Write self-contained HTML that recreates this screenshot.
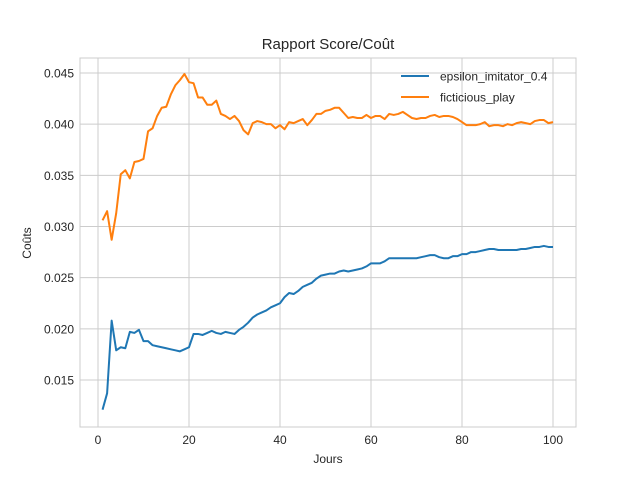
<!DOCTYPE html>
<html><head><meta charset="utf-8"><style>
body{margin:0;background:#fff;width:640px;height:480px;overflow:hidden}
svg text{font-family:"Liberation Sans","DejaVu Sans",sans-serif;fill:#262626}
</style></head><body>
<svg id="chart" width="640" height="480">
<rect x="80" y="58" width="496" height="369" fill="#fff" stroke="#ccc"/>
<g id="grid"></g><g id="ticks"></g><g id="series"></g>
<text x="328" y="49" text-anchor="middle" font-size="15">Rapport Score/Coût</text>
<text x="328" y="463" text-anchor="middle" font-size="12">Jours</text>
<text x="31" y="243" text-anchor="middle" font-size="12" transform="rotate(-90 31 243)">Coûts</text>
<g>
<line x1="401" y1="76" x2="429" y2="76" stroke="#1f77b4" stroke-width="2"/>
<text x="440" y="80.5" font-size="12">epsilon_imitator_0.4</text>
<line x1="401" y1="97" x2="429" y2="97" stroke="#ff7f0e" stroke-width="2"/>
<text x="440" y="101.5" font-size="12">ficticious_play</text>
</g>
</svg>
<script>
const xTicks=[0,20,40,60,80,100];
const yTicks=[0.015,0.020,0.025,0.030,0.035,0.040,0.045];
const yTickLabels=["0.015","0.020","0.025","0.030","0.035","0.040","0.045"];
const epsilon=[0.0121,0.0137,0.0208,0.0179,0.0182,0.0181,0.0197,0.0196,0.0199,0.0188,0.0188,0.0184,0.0183,0.0182,0.0181,0.0180,0.0179,0.0178,0.0180,0.0182,0.0195,0.0195,0.0194,0.0196,0.0198,0.0196,0.0195,0.0197,0.0196,0.0195,0.0199,0.0202,0.0206,0.0211,0.0214,0.0216,0.0218,0.0221,0.0223,0.0225,0.0231,0.0235,0.0234,0.0237,0.0241,0.0243,0.0245,0.0249,0.0252,0.0253,0.0254,0.0254,0.0256,0.0257,0.0256,0.0257,0.0258,0.0259,0.0261,0.0264,0.0264,0.0264,0.0266,0.0269,0.0269,0.0269,0.0269,0.0269,0.0269,0.0269,0.0270,0.0271,0.0272,0.0272,0.0270,0.0269,0.0269,0.0271,0.0271,0.0273,0.0273,0.0275,0.0275,0.0276,0.0277,0.0278,0.0278,0.0277,0.0277,0.0277,0.0277,0.0277,0.0278,0.0278,0.0279,0.0280,0.0280,0.0281,0.0280,0.0280];
const ficticious=[0.0306,0.0315,0.0287,0.0313,0.0351,0.0355,0.0347,0.0363,0.0364,0.0366,0.0393,0.0396,0.0408,0.0416,0.0417,0.0429,0.0438,0.0443,0.0449,0.0441,0.0440,0.0426,0.0426,0.0419,0.0419,0.0423,0.0410,0.0408,0.0405,0.0408,0.0403,0.0394,0.0390,0.0401,0.0403,0.0402,0.0400,0.0400,0.0396,0.0399,0.0395,0.0402,0.0401,0.0403,0.0405,0.0399,0.0404,0.0410,0.0410,0.0413,0.0414,0.0416,0.0416,0.0411,0.0406,0.0407,0.0406,0.0406,0.0409,0.0406,0.0408,0.0408,0.0405,0.0410,0.0409,0.0410,0.0412,0.0409,0.0406,0.0405,0.0406,0.0406,0.0408,0.0409,0.0407,0.0408,0.0408,0.0407,0.0405,0.0402,0.0399,0.0399,0.0399,0.0400,0.0402,0.0398,0.0399,0.0399,0.0398,0.0400,0.0399,0.0401,0.0402,0.0401,0.0400,0.0403,0.0404,0.0404,0.0401,0.0402];
const NS="http://www.w3.org/2000/svg";
const xs=d=>98+(d/100)*455;
const ys=v=>380-(v-0.015)/0.005*51.17;
function mk(tag,attrs,parent){const e=document.createElementNS(NS,tag);for(const k in attrs)e.setAttribute(k,attrs[k]);document.getElementById(parent).appendChild(e);return e;}
xTicks.forEach(t=>{
  const g=mk('line',{x1:xs(t),x2:xs(t),y1:58,y2:427,stroke:'#ccc','stroke-width':1},'grid');
  
  
  const l=mk('text',{x:xs(t),y:444,'text-anchor':'middle','font-size':12},'ticks');
  l.textContent=t;
  
  
});
yTicks.forEach((t,i)=>{
  const g=mk('line',{x1:80,x2:576,y1:ys(t),y2:ys(t),stroke:'#ccc','stroke-width':1},'grid');
  
  
  const l=mk('text',{x:74,y:ys(t)+4.5,'text-anchor':'end','font-size':12},'ticks');
  l.textContent=yTickLabels[i];
  
  
});
function line(data,color,name){
  const pts=data.map((v,i)=>xs(i+1).toFixed(2)+','+ys(v).toFixed(2)).join(' ');
  const p=mk('polyline',{points:pts,fill:'none',stroke:color,'stroke-width':2,'stroke-linejoin':'round'},'series');
  
  
}
line(epsilon,'#1f77b4','epsilon-imitator-line');
line(ficticious,'#ff7f0e','ficticious-play-line');
</script>
</body></html>
